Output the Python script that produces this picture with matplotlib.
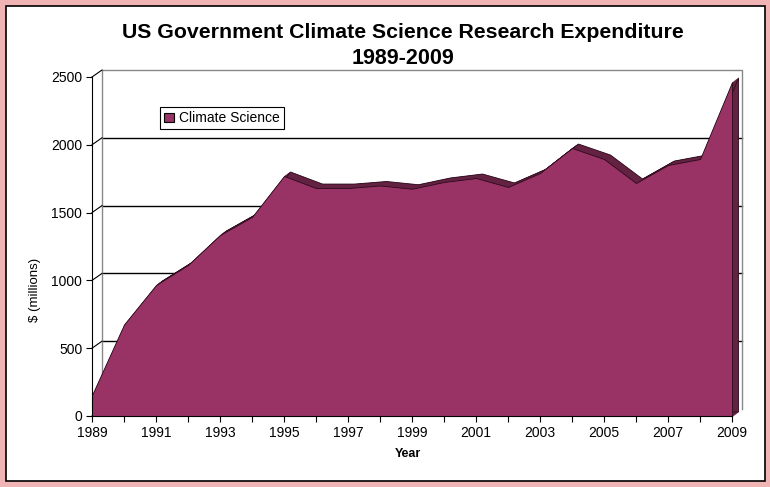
import numpy as np
import matplotlib.pyplot as plt
import matplotlib.transforms as mtransforms
from matplotlib.patches import Rectangle, Patch

plt.rcParams['font.family'] = ['Liberation Sans', 'DejaVu Sans']

# data ($ millions)
years = np.arange(1989, 2010)
spending = [155, 675, 966, 1114, 1335, 1468, 1770, 1681, 1681, 1700, 1676,
            1726, 1755, 1689, 1792, 1976, 1895, 1718, 1851, 1895, 2463]
y_ticks = [0, 500, 1000, 1500, 2000, 2500]
x_labels = [str(y) if (y - 1989) % 2 == 0 else '' for y in years]

front_col = '#993366'
side_col = '#642243'

fig = plt.figure(figsize=(7.7, 4.87), dpi=100)
fig.patch.set_facecolor('#f0b4b4')
# white card with black frame
fig.patches.append(Rectangle((6 / 770, 6 / 487), 759 / 770, 475 / 487,
                             transform=fig.transFigure, facecolor='white',
                             edgecolor='black', lw=1.2, zorder=-1))

ax = fig.add_axes([0.1195, 0.1458, 0.8312, 0.6961])
ax.set_facecolor('none')
ax.set_xlim(1989, 2009)
ax.set_ylim(0, 2500)

# back wall (shifted up/right for the 3d look)
wall = ax.transData + mtransforms.ScaledTranslation(0.10, 0.07, fig.dpi_scale_trans)
for v in y_ticks[1:-1]:
    ax.plot([1989, 2009], [v, v], color='black', lw=1, transform=wall,
            clip_on=False, zorder=1)
ax.plot([1989, 1989, 2009, 2009], [0, 2500, 2500, 0], color='#888888', lw=1,
        transform=wall, clip_on=False, zorder=1)

# left wall connectors from the axis to the back wall
inv = ax.transData.inverted()
for v in y_ticks:
    p0 = (1989, v)
    p1 = inv.transform(wall.transform((1989, v)))
    ax.plot([p0[0], p1[0]], [p0[1], p1[1]], color='black', lw=0.8,
            clip_on=False, zorder=1)

# depth slab of the area
n = 7
for k in range(1, n + 1):
    off = ax.transData + mtransforms.ScaledTranslation(0.06 * k / n, 0.045 * k / n,
                                                       fig.dpi_scale_trans)
    ax.fill_between(years, spending, 0, color=side_col, lw=0.6,
                    edgecolor='#2a0a1a' if k == n else side_col,
                    transform=off, clip_on=False, zorder=2)

# front face
ax.fill_between(years, spending, 0, facecolor=front_col, edgecolor='#2a0a1a',
                lw=0.6, clip_on=False, zorder=3)

ax.spines['top'].set_visible(False)
ax.spines['right'].set_visible(False)
ax.spines['left'].set_zorder(4)
ax.spines['bottom'].set_zorder(4)

ax.set_yticks(y_ticks)
ax.set_xticks(years)
ax.set_xticklabels(x_labels)
ax.tick_params(axis='both', labelsize=10, length=4, width=0.8, direction='out')
ax.tick_params(axis='x', pad=3)
ax.tick_params(axis='y', pad=3)

leg = ax.legend(handles=[Patch(facecolor=front_col, edgecolor='black', lw=0.8)],
                labels=['Climate Science'], loc='upper left',
                bbox_to_anchor=(0.106, 0.911), fontsize=10, frameon=True,
                fancybox=False, framealpha=1, edgecolor='black',
                handlelength=0.7, handleheight=0.7, handletextpad=0.4,
                borderpad=0.3, borderaxespad=0)
leg.get_frame().set_linewidth(0.8)
leg.set_zorder(5)

fig.text(0.523, 1 - 32 / 487, 'US Government Climate Science Research Expenditure',
         ha='center', va='center', fontsize=15.3, fontweight='bold')
fig.text(0.523, 1 - 59 / 487, '1989-2009', ha='center', va='center',
         fontsize=15.5, fontweight='bold')
fig.text(35 / 770, 1 - 290 / 487, '$ (millions)', rotation=90, ha='center',
         va='center', fontsize=9.5)
fig.text(408 / 770, 1 - 454 / 487, 'Year', ha='center', va='center',
         fontsize=9, fontweight='bold')

fig.savefig('out.png', dpi=100, facecolor=fig.get_facecolor())
